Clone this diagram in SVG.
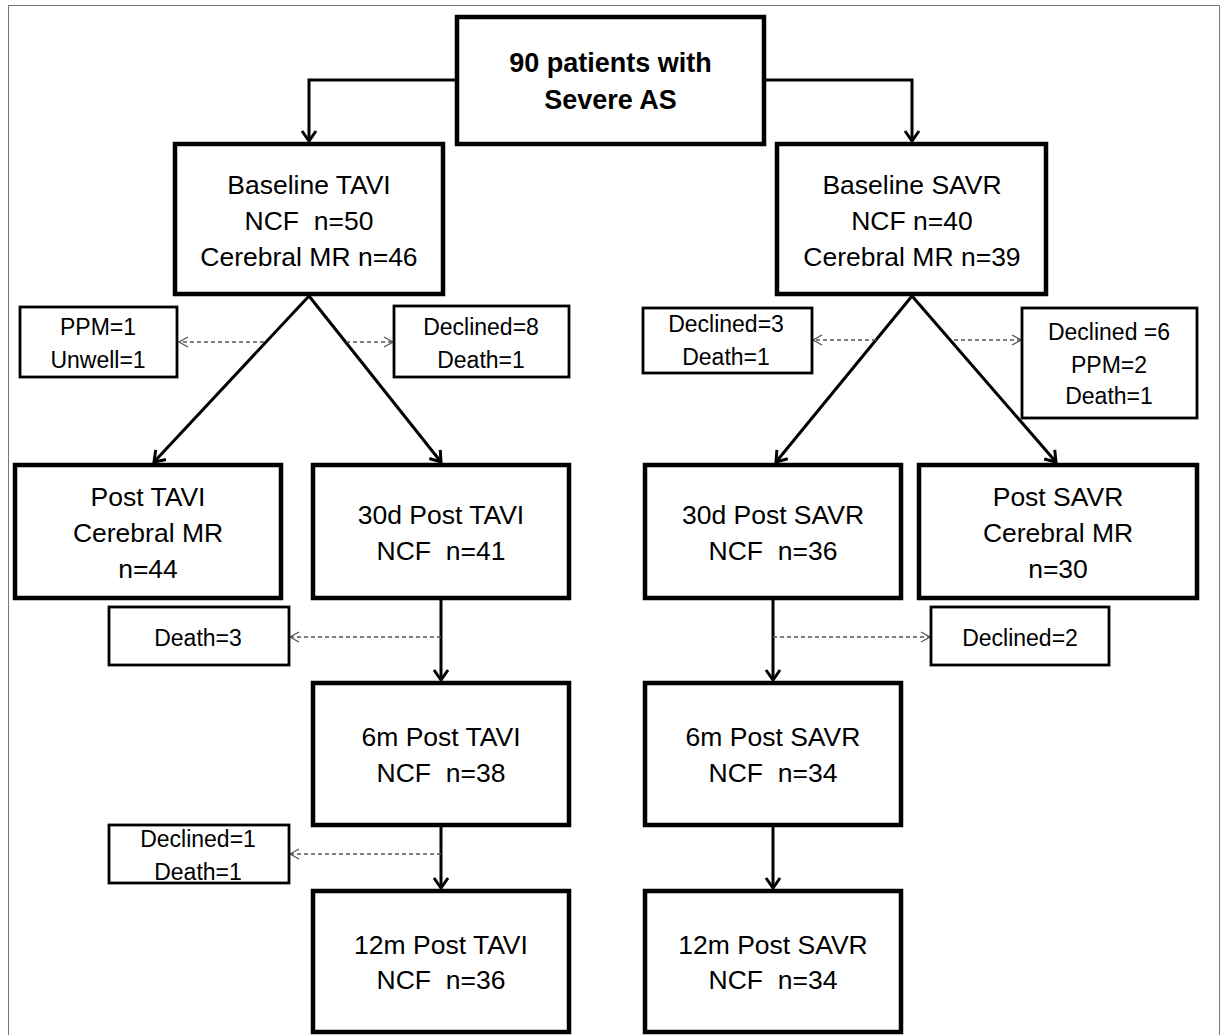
<svg xmlns="http://www.w3.org/2000/svg" width="1228" height="1035" viewBox="0 0 1228 1035">
<style>
.main{fill:#fff;stroke:#000;stroke-width:4.5}
.small{fill:#fff;stroke:#000;stroke-width:2.8}
.t{font-family:"Liberation Sans",Arial,sans-serif;font-size:26.5px;fill:#000;text-anchor:middle}
.s{font-family:"Liberation Sans",Arial,sans-serif;font-size:23px;fill:#000;text-anchor:middle}
.b{font-family:"Liberation Sans",Arial,sans-serif;font-size:27px;font-weight:bold;fill:#000;text-anchor:middle}
.c{fill:none;stroke:#000;stroke-width:3}
.d{fill:none;stroke:#555;stroke-width:1.3;stroke-dasharray:4 3}
</style>
<defs>
<marker id="ah" markerUnits="userSpaceOnUse" viewBox="0 0 14 18" refX="12" refY="9" markerWidth="14" markerHeight="18" orient="auto">
<path d="M2,2 L12,9 L2,16" fill="none" stroke="#000" stroke-width="3"/>
</marker>
<marker id="dh" markerUnits="userSpaceOnUse" viewBox="0 0 12 12" refX="10" refY="6" markerWidth="12" markerHeight="12" orient="auto">
<path d="M1,1 L10,6 L1,11" fill="none" stroke="#555" stroke-width="1.3"/>
</marker>
</defs>
<rect x="0" y="0" width="1228" height="1035" fill="#fff"/>
<rect x="8.5" y="5.5" width="1211" height="1040" fill="none" stroke="#777" stroke-width="1"/>
<g id="connectors">
<path class="c" d="M457,80 H309 V141" marker-end="url(#ah)"/>
<path class="c" d="M764,80 H912 V141" marker-end="url(#ah)"/>
<path class="c" d="M309,296 L154,462" marker-end="url(#ah)"/>
<path class="c" d="M309,296 L441,462" marker-end="url(#ah)"/>
<path class="c" d="M912,296 L776,462" marker-end="url(#ah)"/>
<path class="c" d="M912,296 L1056,462" marker-end="url(#ah)"/>
<path class="c" d="M441,600 V680" marker-end="url(#ah)"/>
<path class="c" d="M441,827 V888" marker-end="url(#ah)"/>
<path class="c" d="M773,600 V680" marker-end="url(#ah)"/>
<path class="c" d="M773,827 V888" marker-end="url(#ah)"/>
<path class="d" d="M264,342 H179" marker-end="url(#dh)"/>
<path class="d" d="M346,342 H393" marker-end="url(#dh)"/>
<path class="d" d="M876,340 H813" marker-end="url(#dh)"/>
<path class="d" d="M954,340 H1021" marker-end="url(#dh)"/>
<path class="d" d="M441,637 H290" marker-end="url(#dh)"/>
<path class="d" d="M441,854 H290" marker-end="url(#dh)"/>
<path class="d" d="M773,637 H930" marker-end="url(#dh)"/>
</g>
<g id="top">
<rect class="main" x="457" y="17" width="307" height="127"/>
<text class="b" x="610.5" y="72">90 patients with</text>
<text class="b" x="610.5" y="109">Severe AS</text>
</g>
<g id="baseline-tavi">
<rect class="main" x="175" y="144" width="268" height="150"/>
<text class="t" x="309" y="194">Baseline TAVI</text>
<text class="t" x="309" y="230" xml:space="preserve">NCF  n=50</text>
<text class="t" x="309" y="266">Cerebral MR n=46</text>
</g>
<g id="baseline-savr">
<rect class="main" x="777" y="144" width="269" height="150"/>
<text class="t" x="912" y="194">Baseline SAVR</text>
<text class="t" x="912" y="230">NCF n=40</text>
<text class="t" x="912" y="266">Cerebral MR n=39</text>
</g>
<g id="tavi-excl-1">
<rect class="small" x="20" y="307" width="157" height="70"/>
<text class="s" x="98" y="335">PPM=1</text>
<text class="s" x="98" y="368">Unwell=1</text>
</g>
<g id="tavi-excl-2">
<rect class="small" x="394" y="306" width="175" height="71"/>
<text class="s" x="481" y="335">Declined=8</text>
<text class="s" x="481" y="368">Death=1</text>
</g>
<g id="savr-excl-1">
<rect class="small" x="643" y="308" width="169" height="65"/>
<text class="s" x="726" y="332">Declined=3</text>
<text class="s" x="726" y="365">Death=1</text>
</g>
<g id="savr-excl-2">
<rect class="small" x="1022" y="308" width="175" height="110"/>
<text class="s" x="1109" y="340" xml:space="preserve">Declined =6</text>
<text class="s" x="1109" y="373">PPM=2</text>
<text class="s" x="1109" y="404">Death=1</text>
</g>
<g id="post-tavi">
<rect class="main" x="15" y="465" width="266" height="133"/>
<text class="t" x="148" y="506">Post TAVI</text>
<text class="t" x="148" y="542">Cerebral MR</text>
<text class="t" x="148" y="578">n=44</text>
</g>
<g id="tavi-30d">
<rect class="main" x="313" y="465" width="256" height="133"/>
<text class="t" x="441" y="524">30d Post TAVI</text>
<text class="t" x="441" y="560" xml:space="preserve">NCF  n=41</text>
</g>
<g id="savr-30d">
<rect class="main" x="645" y="465" width="256" height="133"/>
<text class="t" x="773" y="524">30d Post SAVR</text>
<text class="t" x="773" y="560" xml:space="preserve">NCF  n=36</text>
</g>
<g id="post-savr">
<rect class="main" x="919" y="465" width="278" height="133"/>
<text class="t" x="1058" y="506">Post SAVR</text>
<text class="t" x="1058" y="542">Cerebral MR</text>
<text class="t" x="1058" y="578">n=30</text>
</g>
<g id="tavi-excl-3">
<rect class="small" x="109" y="607" width="180" height="58"/>
<text class="s" x="198" y="646">Death=3</text>
</g>
<g id="savr-excl-3">
<rect class="small" x="931" y="607" width="178" height="58"/>
<text class="s" x="1020" y="646">Declined=2</text>
</g>
<g id="tavi-6m">
<rect class="main" x="313" y="683" width="256" height="142"/>
<text class="t" x="441" y="746">6m Post TAVI</text>
<text class="t" x="441" y="782" xml:space="preserve">NCF  n=38</text>
</g>
<g id="savr-6m">
<rect class="main" x="645" y="683" width="256" height="142"/>
<text class="t" x="773" y="746">6m Post SAVR</text>
<text class="t" x="773" y="782" xml:space="preserve">NCF  n=34</text>
</g>
<g id="tavi-excl-4">
<rect class="small" x="109" y="825" width="180" height="58"/>
<text class="s" x="198" y="847">Declined=1</text>
<text class="s" x="198" y="880">Death=1</text>
</g>
<g id="tavi-12m">
<rect class="main" x="313" y="891" width="256" height="141"/>
<text class="t" x="441" y="954">12m Post TAVI</text>
<text class="t" x="441" y="989" xml:space="preserve">NCF  n=36</text>
</g>
<g id="savr-12m">
<rect class="main" x="645" y="891" width="256" height="141"/>
<text class="t" x="773" y="954">12m Post SAVR</text>
<text class="t" x="773" y="989" xml:space="preserve">NCF  n=34</text>
</g>
</svg>
